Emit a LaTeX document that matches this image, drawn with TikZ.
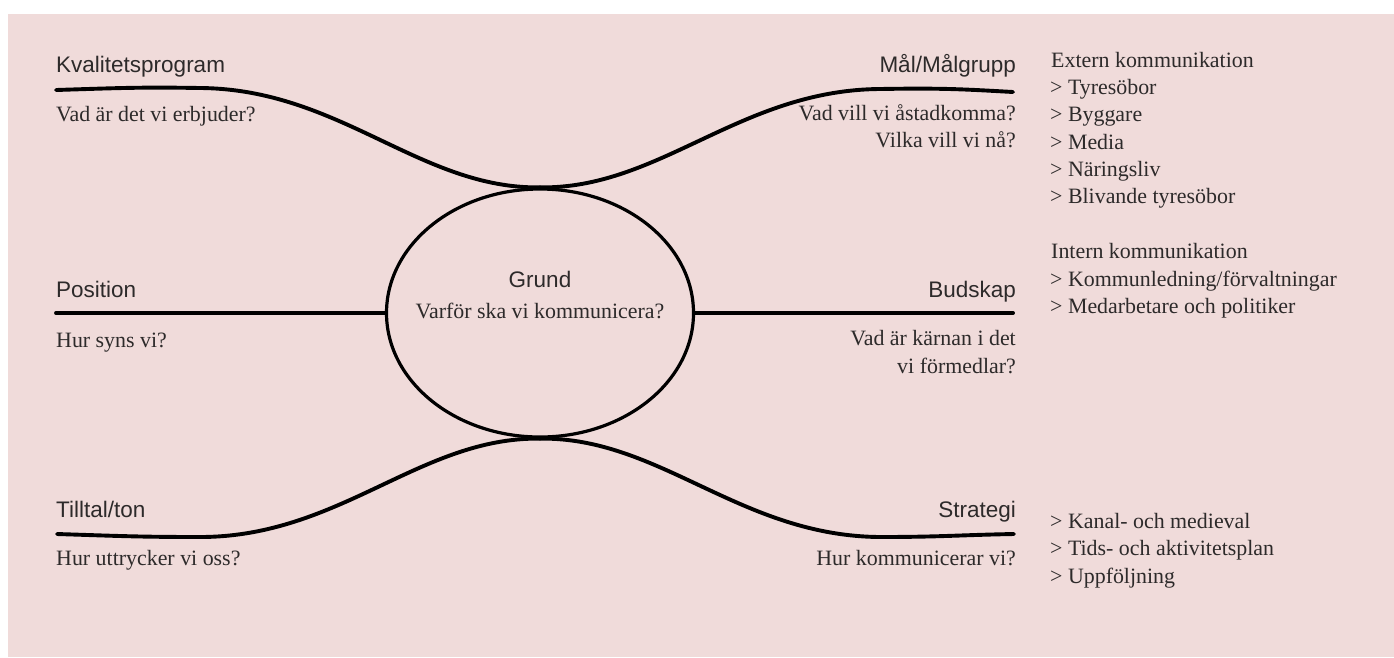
\documentclass[tikz,border=0pt]{standalone}
\usepackage{fontspec}
\setmainfont{Liberation Serif}
\setsansfont{Liberation Sans}
\usetikzlibrary{shapes.geometric}
\definecolor{bg}{RGB}{240,219,218}
\definecolor{ink}{RGB}{45,42,42}
\begin{document}
\begin{tikzpicture}[x=1pt,y=-1pt,
  lab/.style={font=\sffamily\fontsize{22.5}{27}\selectfont, text=ink, inner sep=0pt},
  txt/.style={font=\fontsize{21.9}{27.2}\selectfont, text=ink, inner sep=0pt},
  branch/.style={line width=3.9pt, line cap=round, draw=black},
  hub/.style={ellipse, draw=black, line width=3.2pt, minimum width=307pt, minimum height=248pt, inner sep=0pt},
]
\useasboundingbox (0,0) rectangle (1394,657);
\fill[white] (0,0) rectangle (1394,657);
\fill[bg] (8,14) rectangle (1394,657);

% central ellipse
\node[hub] (grund) at (540,313) {};
\node[lab, anchor=base] (grundl) at (540,287) {Grund};
\node[txt, anchor=base] (grundq) at (540,318) {Varför ska vi kommunicera?};

% branch end points
\coordinate (kvE) at (56,90);
\coordinate (posE) at (56,313);
\coordinate (tiE) at (57,534);
\coordinate (maE) at (1013,92);
\coordinate (buE) at (1013,313);
\coordinate (stE) at (1014,534);

% branches
\draw[branch] (kvE) .. controls (120,88) and (140,87) .. (200,88)
  .. controls (340,89) and (420,189) .. (grund.north);
\draw[branch] (grund.north) .. controls (660,189) and (740,90) .. (880,89)
  .. controls (940,88) and (960,89) .. (maE);
\draw[branch] (posE) -- (grund.west);
\draw[branch] (grund.east) -- (buE);
\draw[branch] (tiE) .. controls (120,536) and (140,537) .. (200,537)
  .. controls (340,537) and (420,437) .. (grund.south);
\draw[branch] (grund.south) .. controls (660,437) and (740,536) .. (880,537)
  .. controls (940,537) and (960,535) .. (stE);

% left labels
\node[lab, anchor=base west] (kvl) at (56,72) {Kvalitetsprogram};
\node[txt, anchor=base west] (kvq) at (56,121) {Vad är det vi erbjuder?};
\node[lab, anchor=base west] (posl) at (56,297) {Position};
\node[txt, anchor=base west] (posq) at (56,347) {Hur syns vi?};
\node[lab, anchor=base west] (til) at (56,517) {Tilltal/ton};
\node[txt, anchor=base west] (tiq) at (56,565) {Hur uttrycker vi oss?};

% right labels
\node[lab, anchor=base east] (mal) at (1016,72) {Mål/Målgrupp};
\node[txt, anchor=base east] (maq1) at (1016,120) {Vad vill vi åstadkomma?};
\node[txt, anchor=base east] (maq2) at (1016,147) {Vilka vill vi nå?};
\node[lab, anchor=base east] (bul) at (1016,297) {Budskap};
\node[txt, anchor=base east] (buq1) at (1016,345) {Vad är kärnan i det};
\node[txt, anchor=base east] (buq2) at (1016,373) {vi förmedlar?};
\node[lab, anchor=base east] (stl) at (1016,517) {Strategi};
\node[txt, anchor=base east] (stq) at (1016,565) {Hur kommunicerar vi?};

% right column lists
\node[txt, anchor=base west] (ext0) at (1051,67.5) {Extern kommunikation};
\node[txt, anchor=base west] (ext1) at (1050,94.7) {> Tyresöbor};
\node[txt, anchor=base west] (ext2) at (1050,121.9) {> Byggare};
\node[txt, anchor=base west] (ext3) at (1050,149.1) {> Media};
\node[txt, anchor=base west] (ext4) at (1050,176.3) {> Näringsliv};
\node[txt, anchor=base west] (ext5) at (1050,203.5) {> Blivande tyresöbor};
\node[txt, anchor=base west] (int0) at (1051,258) {Intern kommunikation};
\node[txt, anchor=base west] (int1) at (1050,286) {> Kommunledning/förvaltningar};
\node[txt, anchor=base west] (int2) at (1050,313.5) {> Medarbetare och politiker};
\node[txt, anchor=base west] (str1) at (1050,528) {> Kanal- och medieval};
\node[txt, anchor=base west] (str2) at (1050,555.5) {> Tids- och aktivitetsplan};
\node[txt, anchor=base west] (str3) at (1050,583) {> Uppföljning};
\end{tikzpicture}
\end{document}
